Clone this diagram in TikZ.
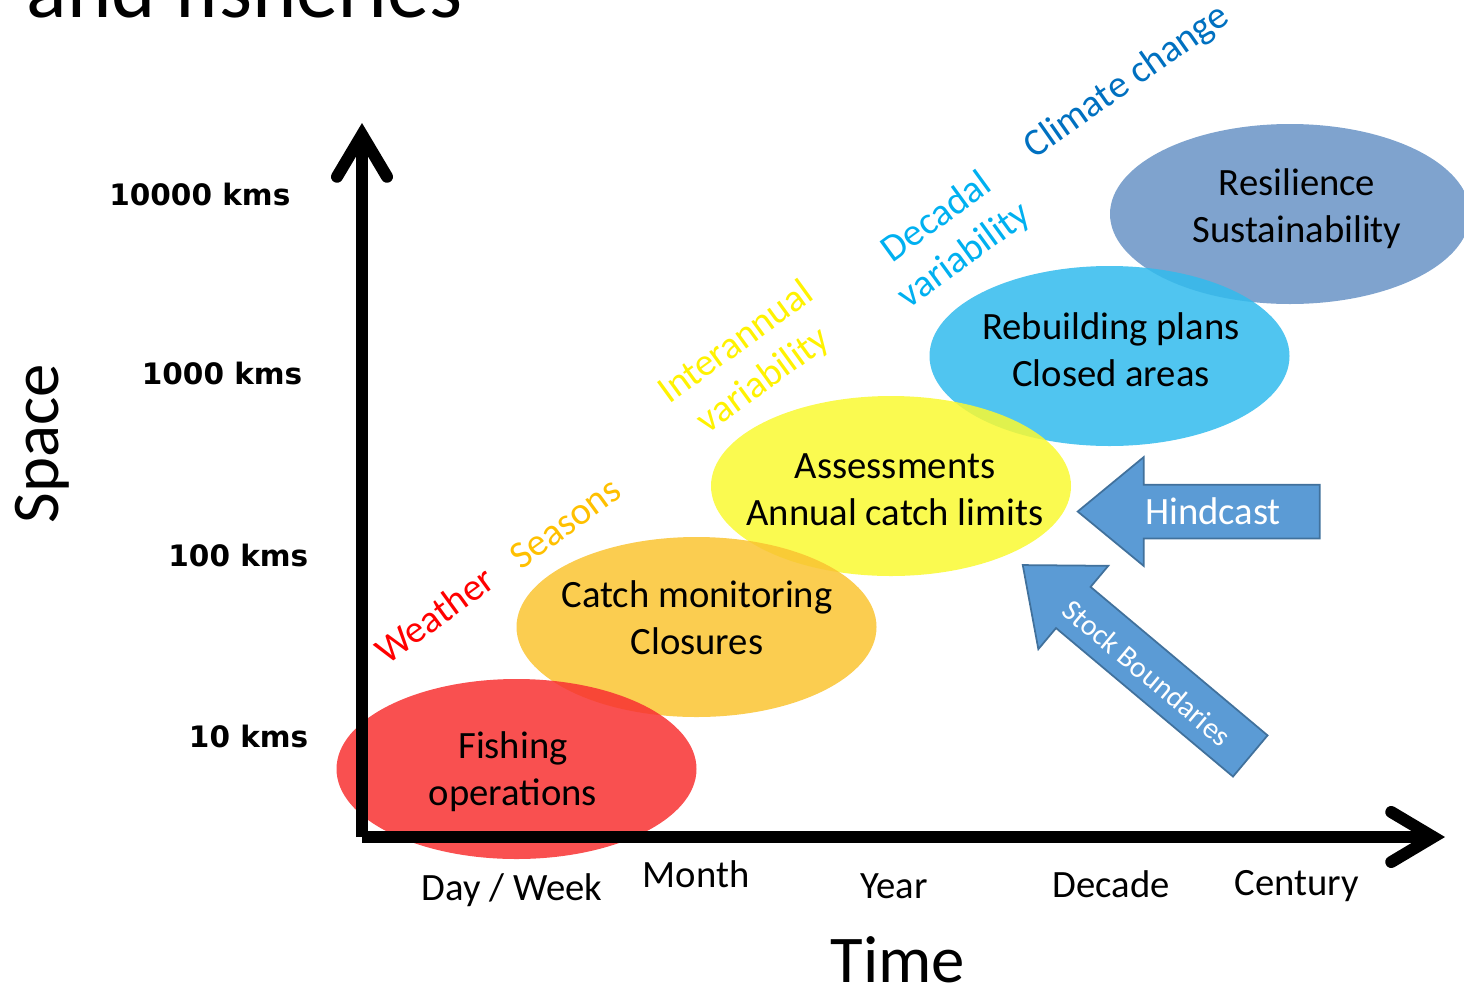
\documentclass[tikz,border=0pt]{standalone}
\usepackage{fontspec}
\setmainfont{Carlito}
\newfontfamily\kmsfont{DejaVu Sans}
\usetikzlibrary{shapes.geometric,shapes.arrows,arrows.meta}

\definecolor{fishred}{RGB}{248,49,49}
\definecolor{catchgold}{RGB}{250,196,49}
\definecolor{assessyellow}{RGB}{249,249,49}
\definecolor{rebuildcyan}{RGB}{49,187,237}
\definecolor{resilsteel}{RGB}{104,147,197}
\definecolor{arrowblue}{RGB}{91,155,213}
\definecolor{arrowedge}{RGB}{65,113,156}
\definecolor{seasongold}{RGB}{255,192,0}
\definecolor{decadalblue}{RGB}{0,176,240}
\definecolor{climateblue}{RGB}{0,112,192}

\tikzset{
  zone/.style={ellipse, minimum width=3.6cm, minimum height=1.8cm, inner sep=0pt, fill opacity=0.85},
  zonetext/.style={align=center, font=\fontsize{11}{13.3}\selectfont},
  kms/.style={anchor=base east, inner sep=0pt, font={\kmsfont\bfseries\fontsize{8.4}{10}\selectfont}},
  timelabel/.style={anchor=base, inner sep=0pt, font=\fontsize{11}{13.3}\selectfont},
  driver/.style={rotate=36, align=center, font=\fontsize{11}{13.3}\selectfont},
  bigtitle/.style={font=\fontsize{19}{23}\selectfont},
  axisline/.style={line width=0.12cm, -{Straight Barb[length=0.42cm, width=0.5cm, line cap=round, line join=miter]}},
  blockarrow/.style={single arrow, shape border rotate=180, fill=arrowblue, draw=arrowedge, line width=0.5pt,
    inner xsep=0pt, inner ysep=0pt, single arrow head extend=0.275cm, single arrow tip angle=79,
    text height=0.37cm, text depth=0.15cm},
  arrowtext/.style={text=white, inner sep=0pt}
}

\begin{document}
\begin{tikzpicture}
\useasboundingbox (0,0) rectangle (14.64,9.86);

\node[anchor=base west, inner sep=0pt, font=\fontsize{24}{29}\selectfont] (title) at (0.26,9.69) {and fisheries};

% management zones, top right first
\node[zone, fill=resilsteel] (resil) at (12.90,7.72) {};
\node[zone, fill=rebuildcyan] (rebuild) at (11.095,6.30) {};
\node[zone, fill=assessyellow] (assess) at (8.91,5.00) {};
\node[zone, fill=catchgold] (catch) at (6.965,3.59) {};
\node[zone, fill=fishred] (fishing) at (5.165,2.17) {};

\node[zonetext] (resil-txt) at (12.97,7.77) {Resilience\\Sustainability};
\node[zonetext] (rebuild-txt) at (11.11,6.36) {Rebuilding plans\\Closed areas};
\node[zonetext] (assess-txt) at (8.95,4.96) {Assessments\\Annual catch limits};
\node[zonetext] (catch-txt) at (6.97,3.68) {Catch monitoring\\Closures};
\node[zonetext] (fishing-txt) at (5.13,2.14) {Fishing\\operations};

% axes
\coordinate (origin) at (3.62,1.49);
\coordinate (ytop) at (3.62,8.63);
\coordinate (xend) at (14.45,1.49);
\draw[axisline] (origin) -- (ytop);
\draw[axisline] (origin) -- (xend);

\node[kms] (km10000) at (2.91,7.81) {10000 kms};
\node[kms] (km1000) at (3.03,6.02) {1000 kms};
\node[kms] (km100) at (3.09,4.20) {100 kms};
\node[kms] (km10) at (3.09,2.39) {10 kms};
\node[bigtitle, rotate=90] (space) at (0.42,5.42) {Space};

\node[timelabel] (week) at (5.12,0.86) {Day / Week};
\node[timelabel] (month) at (6.96,0.99) {Month};
\node[timelabel] (year) at (8.94,0.88) {Year};
\node[timelabel] (decade) at (11.11,0.89) {Decade};
\node[timelabel] (century) at (12.97,0.91) {Century};
\node[bigtitle, anchor=base, inner sep=0pt] (time) at (8.98,0.04) {Time};

% drivers along the diagonal
\node[driver, text=red] (weather) at (4.345,3.71) {Weather};
\node[driver, text=seasongold] (seasons) at (5.65,4.63) {Seasons};
\node[driver, text=yellow] (interannual) at (7.50,6.24) {Interannual\\variability};
\node[driver, text=decadalblue] (decadal) at (9.51,7.49) {Decadal\\variability};
\node[driver, rotate=-1, text=climateblue] (climate) at (11.27,9.04) {Climate change};

\node[blockarrow, minimum height=2.42cm] (hindcast) at (12.15,4.745) {};
\node[arrowtext, font=\fontsize{11}{13.3}\selectfont] (hindcast-txt) at (12.13,4.75) {Hindcast};
\node[blockarrow, rotate=-40, minimum height=2.97cm] (stock) at (11.49,3.15) {};
\node[arrowtext, rotate=-40, font=\fontsize{8.5}{10}\selectfont] (stock-txt) at (11.47,3.13) {Stock Boundaries};
\end{tikzpicture}
\end{document}
